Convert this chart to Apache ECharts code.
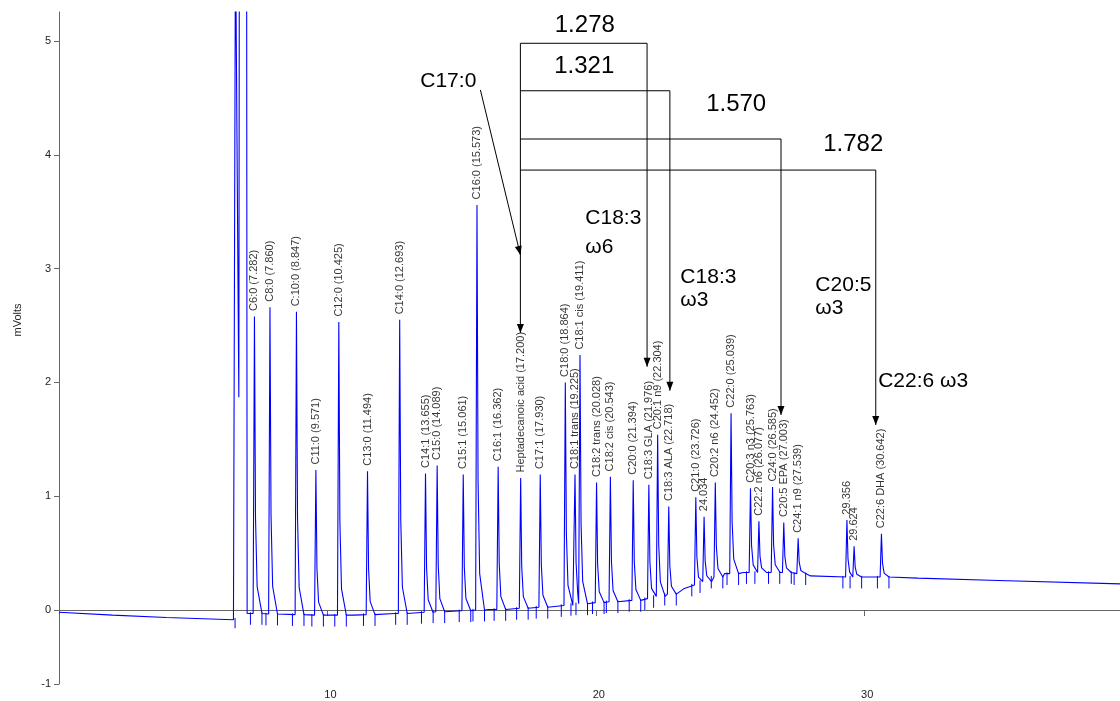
<!DOCTYPE html>
<html><head><meta charset="utf-8">
<script src="https://cdn.jsdelivr.net/npm/echarts@6/dist/echarts.min.js"></script>
<style>html,body{margin:0;padding:0;background:#fff}#c{width:1120px;height:701px}</style>
</head><body><div id="c"></div>
<script>
// ---- data ----
const peakNames = ['C6:0 (7.282)','C8:0 (7.860)','C:10:0 (8.847)','C11:0 (9.571)','C12:0 (10.425)','C13:0 (11.494)','C14:0 (12.693)','C14:1 (13.655)','C15:0 (14.089)','C15:1 (15.061)','C16:0 (15.573)','C16:1 (16.362)','Heptadecanoic acid (17.200)','C17:1 (17.930)','C18:0 (18.864)','C18:1 trans (19.225)','C18:1 cis (19.411)','C18:2 trans (20.028)','C18:2 cis (20.543)','C20:0 (21.394)','C18:3 GLA (21.976)','C20:1 n9 (22.304)','C18:3 ALA (22.718)','C21:0 (23.726)','24.034','C20:2 n6 (24.452)','C22:0 (25.039)','C20:3 n3 (25.763)','C22:2 n6 (26.077)','C24:0 (26.585)','C20:5 EPA (27.003)','C24:1 n9 (27.539)','29.356','29.624','C22:6 DHA (30.642)'];
const peakRT = [7.282,7.860,8.847,9.571,10.425,11.494,12.693,13.655,14.089,15.061,15.573,16.362,17.200,17.930,18.864,19.225,19.411,20.028,20.543,21.394,21.976,22.304,22.718,23.726,24.034,24.452,25.039,25.763,26.077,26.585,27.003,27.539,29.356,29.624,30.642];
const peakTop = [2.58,2.66,2.62,1.23,2.53,1.22,2.55,1.20,1.27,1.19,3.56,1.26,1.16,1.19,2.00,1.19,2.24,1.12,1.17,1.14,1.10,1.54,0.91,0.99,0.82,1.12,1.73,1.07,0.78,1.08,0.77,0.63,0.79,0.56,0.67];
const peakBase = [-0.03,-0.035,-0.04,-0.045,-0.045,-0.04,-0.03,-0.02,-0.015,-0.006,0.0,0.005,0.015,0.025,0.04,0.05,0.055,0.065,0.073,0.085,0.10,0.12,0.14,0.22,0.25,0.29,0.32,0.33,0.33,0.33,0.33,0.32,0.29,0.29,0.29];
const baseT = [0,2,4,6.5,7.1,9,11,12.5,14,16,18,19.5,20.5,21.5,22.5,23.3,24,24.8,25.5,27.2,28,30,32,35,39.53];
const baseV = [-0.02,-0.045,-0.065,-0.085,-0.03,-0.04,-0.045,-0.03,-0.015,0.005,0.03,0.05,0.07,0.088,0.13,0.19,0.26,0.32,0.33,0.33,0.30,0.29,0.28,0.26,0.23];
const solventT = [6.56,6.575,6.70,6.72,6.99,7.01];
const solventV = [-0.09,6,1.87,6,6,-0.03];
const xTickValues = [0,10,20,30];
const xLabelValues = [10,20,30];
const yTickValues = [-0.65,0,1,2,3,4,5];
const yTickLabels = ['-1','0','1','2','3','4','5'];
// annotation values
const refName = 'C17:0';
const refRT = 17.19, refLevel = 4.98, refTip = 2.434;
const refFrom = [15.70, 4.57], refArrowTip = [17.19, 3.12];
const ratioLabels = ['1.278','1.321','1.570','1.782'];
const ratioTargetRT = [21.91,22.76,26.90,30.43];
const ratioLevel = [4.98,4.563,4.139,3.866];
const ratioTip = [2.138,1.927,1.714,1.626];
const targetNames = [['C18:3','ω6'],['C18:3','ω3'],['C20:5','ω3'],['C22:6 ω3']];

// ---- layout (positions in axis units) ----
const ratioTextPos = [[19.59,5.136],[19.57,4.78],[25.23,4.446],[29.59,4.09]];
const targetTextPos = [[[19.61,3.44],[19.61,3.19]],[[23.15,2.926],[23.15,2.724]],[[28.18,2.856],[28.18,2.654]],[[30.52,2.012]]];
const refTextPos = [13.46,4.65];
const SH = {lead:0.05, s1:0.04, f1:0.32, s2:0.10, f2:0.09, tail:0.28, mark:0.15};
const FONT = '"Liberation Sans", Arial, sans-serif';

// ---- build trace ----
const pts = [];
const windows = [[6.55,7.02]];
solventT.forEach((t,i)=>pts.push([t,solventV[i]]));
const marks = [[6.56,-0.07,-0.16]];
peakRT.forEach((rt,i)=>{
  const top = peakTop[i], b = peakBase[i];
  const next = peakRT[i+1];
  const lim = next !== undefined ? next - SH.lead : Infinity;
  const start = rt - SH.lead;
  pts.push([start,b],[rt,top]);
  [[SH.s1,SH.f1],[SH.s2,SH.f2]].forEach(([dt,f])=>{ if (rt+dt < lim) pts.push([rt+dt, b+(top-b)*f]); });
  let end = rt + SH.tail;
  if (end < lim) pts.push([end,b]); else end = lim;
  windows.push([start,end]);
  const sm = rt - SH.mark;
  if (!marks.length || sm - marks[marks.length-1][0] > 0.08) marks.push([sm, b+0.01, b-0.1]);
  if (next === undefined || (next - SH.mark) - end > 0.08) marks.push([end, b+0.01, b-0.1]);
});
baseT.forEach((t,i)=>{ if (!windows.some(w=>t>=w[0]&&t<=w[1])) pts.push([t,baseV[i]]); });
pts.sort((a,b)=>a[0]-b[0]);

const chart = echarts.init(document.getElementById('c'), null, {renderer:'canvas'});

function arrowHead(tip, from){
  const dx=tip[0]-from[0], dy=tip[1]-from[1], L=Math.hypot(dx,dy), ux=dx/L, uy=dy/L;
  const len=9, w=3.5;
  const bx=tip[0]-ux*len, by=tip[1]-uy*len;
  return {type:'polygon', shape:{points:[tip,[bx-uy*w,by+ux*w],[bx+uy*w,by-ux*w]]}, style:{fill:'#000'}};
}
function seg(a,b){ return {type:'polyline', shape:{points:[a,b]}, style:{stroke:'#000', lineWidth:1, fill:null}}; }

const option = {
  animation:false,
  grid:{left:59,right:0,top:12,bottom:17,containLabel:false},
  xAxis:{type:'value',min:0,max:39.53,
    axisLine:{show:true,lineStyle:{color:'#666'}},
    axisTick:{show:true,length:6,customValues:xTickValues,lineStyle:{color:'#666'}},
    axisLabel:{customValues:xLabelValues,fontSize:11,color:'#222',margin:5,fontFamily:FONT,padding:[0,0,0,6]},
    splitLine:{show:false}},
  yAxis:{type:'value',min:-0.65,max:5.255,name:'mVolts',nameLocation:'middle',nameGap:36,nameRotate:90,
    nameTextStyle:{fontSize:11,color:'#222',fontFamily:FONT,padding:[0,0,0,56]},
    axisLine:{show:true,lineStyle:{color:'#666'}},
    axisTick:{show:true,length:5,customValues:yTickValues,lineStyle:{color:'#666'}},
    axisLabel:{customValues:yTickValues,fontSize:11,color:'#222',margin:8,fontFamily:FONT,
      formatter:v=>{const i=yTickValues.findIndex(x=>Math.abs(x-v)<1e-6);return i>=0?yTickLabels[i]:'';}},
    splitLine:{show:false}},
  series:[
    {type:'line',data:pts,symbol:'none',clip:true,lineStyle:{color:'#0000ff',width:1.1},z:3,silent:true},
    {type:'custom',data:marks,encode:{x:0,y:[1,2]},z:2,silent:true,clip:true,
      renderItem:(p,api)=>{const a=api.coord([api.value(0),api.value(1)]),b=api.coord([api.value(0),api.value(2)]);
        return {type:'line',shape:{x1:a[0],y1:a[1],x2:b[0],y2:b[1]},style:{stroke:'#0000ff',lineWidth:1}};}},
    {type:'scatter',data:peakRT.map((t,i)=>[t,peakTop[i]]),symbolSize:1,itemStyle:{color:'rgba(0,0,0,0)'},z:4,silent:true,
      label:{show:true,position:'top',distance:5,rotate:90,align:'left',verticalAlign:'middle',
        fontSize:11,color:'#000',fontFamily:FONT,formatter:p=>peakNames[p.dataIndex]}},
    {type:'custom',data:[[refRT,refTip]],encode:{x:0,y:1},z:5,silent:true,clip:false,
      renderItem:(p,api)=>{
        const c=v=>api.coord(v);
        const ch=[];
        ch.push(seg(c([refRT,refLevel]),c([refRT,refTip])));
        ch.push(arrowHead(c([refRT,refTip]),c([refRT,refLevel])));
        ratioTargetRT.forEach((t,i)=>{
          ch.push({type:'polyline',shape:{points:[c([refRT,ratioLevel[i]]),c([t,ratioLevel[i]]),c([t,ratioTip[i]])]},style:{stroke:'#000',lineWidth:1,fill:null}});
          ch.push(arrowHead(c([t,ratioTip[i]]),c([t,ratioLevel[i]])));
          const rp=c(ratioTextPos[i]);
          ch.push({type:'text',x:rp[0],y:rp[1],style:{text:ratioLabels[i],font:'24px '+FONT,fill:'#000',align:'center',verticalAlign:'middle'}});
          targetNames[i].forEach((s,j)=>{const q=c(targetTextPos[i][j]);
            ch.push({type:'text',x:q[0],y:q[1],style:{text:s,font:'21px '+FONT,fill:'#000',align:'left',verticalAlign:'middle'}});});
        });
        ch.push(seg(c(refFrom),c(refArrowTip)));
        ch.push(arrowHead(c(refArrowTip),c(refFrom)));
        const rq=c(refTextPos);
        ch.push({type:'text',x:rq[0],y:rq[1],style:{text:refName,font:'21px '+FONT,fill:'#000',align:'left',verticalAlign:'middle'}});
        return {type:'group',children:ch};
      }}
  ]
};
chart.setOption(option);
</script></body></html>
